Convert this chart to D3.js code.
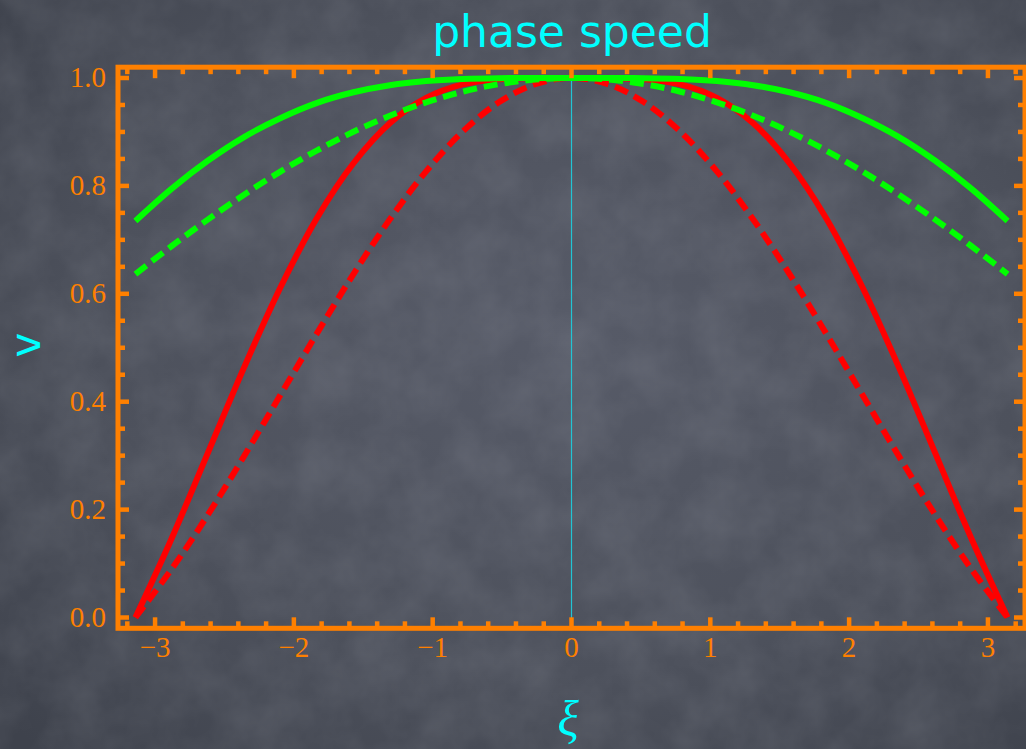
<!DOCTYPE html>
<html>
<head>
<meta charset="utf-8">
<script src="https://cdn.jsdelivr.net/npm/d3@7"></script>
<style>
  html, body { margin: 0; padding: 0; background: #4a4e5a; overflow: hidden; }
</style>
</head>
<body>
<div class="chart"></div>
<script>
var svgWidth = 1026;
var svgHeight = 749;

// sample points along xi (multiples of pi/12)
var xi = [-3.1416, -2.8798, -2.6180, -2.3562, -2.0944, -1.8326, -1.5708, -1.3090, -1.0472, -0.7854, -0.5236, -0.2618, 0,
  0.2618, 0.5236, 0.7854, 1.0472, 1.3090, 1.5708, 1.8326, 2.0944, 2.3562, 2.6180, 2.8798, 3.1416];

var redSolid = [0, 0.1470, 0.3060, 0.4650, 0.6130, 0.7410, 0.8420, 0.9160, 0.9630, 0.9880, 0.9976, 0.9998, 1,
  0.9998, 0.9976, 0.9880, 0.9630, 0.9160, 0.8420, 0.7410, 0.6130, 0.4650, 0.3060, 0.1470, 0];

var redDashed = [0, 0.0899, 0.1910, 0.3001, 0.4135, 0.5271, 0.6366, 0.7379, 0.8270, 0.9003, 0.9549, 0.9886, 1,
  0.9886, 0.9549, 0.9003, 0.8270, 0.7379, 0.6366, 0.5271, 0.4135, 0.3001, 0.1910, 0.0899, 0];

var greenSolid = [0.7350, 0.7950, 0.8470, 0.8910, 0.9260, 0.9540, 0.9735, 0.9866, 0.9943, 0.9982, 0.9997, 1.0, 1,
  1.0, 0.9997, 0.9982, 0.9943, 0.9866, 0.9735, 0.9540, 0.9260, 0.8910, 0.8470, 0.7950, 0.7350];

var greenDashed = [0.6366, 0.6886, 0.7379, 0.7842, 0.8270, 0.8658, 0.9003, 0.9301, 0.9549, 0.9745, 0.9886, 0.9972, 1,
  0.9972, 0.9886, 0.9745, 0.9549, 0.9301, 0.9003, 0.8658, 0.8270, 0.7842, 0.7379, 0.6886, 0.6366];

var xTickValues = [-3, -2, -1, 0, 1, 2, 3];
var xTickLabels = ['\u22123', '\u22122', '\u22121', '0', '1', '2', '3'];
var yTickValues = [0, 0.2, 0.4, 0.6, 0.8, 1.0];
var yTickLabels = ['0.0', '0.2', '0.4', '0.6', '0.8', '1.0'];

var orange = '#ff8000';
var cyan = '#00ffff';

var svg = d3
  .select('.chart')
  .append('svg')
  .attr('width', svgWidth)
  .attr('height', svgHeight);

// background: dark slate with a bit of texture
var defs = svg.append('defs');
var grad = defs.append('radialGradient').attr('id', 'bg').attr('cx', '55%').attr('cy', '45%').attr('r', '75%');
grad.append('stop').attr('offset', '0%').attr('stop-color', '#575b68');
grad.append('stop').attr('offset', '60%').attr('stop-color', '#4d515c');
grad.append('stop').attr('offset', '100%').attr('stop-color', '#3e424c');

var noise = defs.append('filter').attr('id', 'noise').attr('x', 0).attr('y', 0).attr('width', '100%').attr('height', '100%');
noise.append('feTurbulence').attr('type', 'fractalNoise').attr('baseFrequency', '0.02').attr('numOctaves', 4).attr('seed', 7);
noise.append('feColorMatrix').attr('type', 'matrix')
  .attr('values', '0 0 0 0 0.82  0 0 0 0 0.84  0 0 0 0 0.9  0 0 0 0.14 -0.04');

svg.append('rect').attr('width', svgWidth).attr('height', svgHeight).attr('fill', 'url(#bg)');
svg.append('rect').attr('width', svgWidth).attr('height', svgHeight).attr('filter', 'url(#noise)');

var x = d3.scaleLinear().domain([-3.267, 3.267]).range([118, 1025]);
var y = d3.scaleLinear().domain([-0.02, 1.02]).range([628.3, 67.2]);

var chart = svg.append('g');

// thin vertical line at xi = 0
chart.append('line')
  .attr('x1', x(0)).attr('x2', x(0))
  .attr('y1', y(1.02)).attr('y2', y(-0.02))
  .attr('stroke', '#22c4d4')
  .attr('stroke-width', 1.2);

var line = d3.line()
  .x(function(d) { return x(d[0]); })
  .y(function(d) { return y(d[1]); })
  .curve(d3.curveCatmullRom.alpha(0.5));

var series = [
  {values: redSolid, color: '#ff0000', dash: null},
  {values: redDashed, color: '#ff0000', dash: '14,7'},
  {values: greenSolid, color: '#00ff00', dash: null},
  {values: greenDashed, color: '#00ff00', dash: '14,7'}
];

series.forEach(function(s) {
  chart.append('path')
    .datum(xi.map(function(v, i) { return [v, s.values[i]]; }))
    .attr('d', line)
    .attr('fill', 'none')
    .attr('stroke', s.color)
    .attr('stroke-width', 6)
    .attr('stroke-dasharray', s.dash);
});

// frame with ticks on all four sides
var frame = svg.append('g');
var x0 = x.range()[0], x1 = x.range()[1];
var y0 = y.range()[0], y1 = y.range()[1];

var xMinor = d3.range(-16, 17).map(function(k) { return k / 5; })
  .filter(function(v) { return Math.abs(v - Math.round(v)) > 1e-6; });
var yMinor = d3.range(0, 21).map(function(k) { return k / 20; })
  .filter(function(v) { return Math.abs(v * 5 - Math.round(v * 5)) > 1e-6; });

function tick(x1t, y1t, x2t, y2t) {
  frame.append('line')
    .attr('x1', x1t).attr('y1', y1t).attr('x2', x2t).attr('y2', y2t)
    .attr('stroke', orange).attr('stroke-width', 4.5);
}

xTickValues.forEach(function(v) {
  tick(x(v), y0, x(v), y0 - 11);
  tick(x(v), y1, x(v), y1 + 11);
});
xMinor.forEach(function(v) {
  tick(x(v), y0, x(v), y0 - 7);
  tick(x(v), y1, x(v), y1 + 7);
});
yTickValues.forEach(function(v) {
  tick(x0, y(v), x0 + 11, y(v));
  tick(x1, y(v), x1 - 11, y(v));
});
yMinor.forEach(function(v) {
  tick(x0, y(v), x0 + 7, y(v));
  tick(x1, y(v), x1 - 7, y(v));
});

frame.append('rect')
  .attr('x', x0).attr('y', y1)
  .attr('width', x1 - x0).attr('height', y0 - y1)
  .attr('fill', 'none')
  .attr('stroke', orange)
  .attr('stroke-width', 5);

// tick labels
frame.selectAll('.xlab')
  .data(xTickValues)
  .enter()
  .append('text')
  .attr('class', 'xlab')
  .attr('x', function(d) { return x(d); })
  .attr('y', 657)
  .attr('text-anchor', 'middle')
  .attr('font-family', 'Liberation Serif, Times New Roman, serif')
  .attr('font-size', 29)
  .attr('fill', orange)
  .text(function(d, i) { return xTickLabels[i]; });

frame.selectAll('.ylab')
  .data(yTickValues)
  .enter()
  .append('text')
  .attr('class', 'ylab')
  .attr('x', 106)
  .attr('y', function(d) { return y(d) + 9; })
  .attr('text-anchor', 'end')
  .attr('font-family', 'Liberation Serif, Times New Roman, serif')
  .attr('font-size', 29)
  .attr('fill', orange)
  .text(function(d, i) { return yTickLabels[i]; });

// title and axis labels
svg.append('text')
  .attr('x', 572)
  .attr('y', 47)
  .attr('text-anchor', 'middle')
  .attr('font-family', 'Comic Sans MS, DejaVu Sans, sans-serif')
  .attr('font-size', 44)
  .attr('fill', cyan)
  .text('phase speed');

svg.append('text')
  .attr('transform', 'translate(40,345) rotate(-90)')
  .attr('text-anchor', 'middle')
  .attr('font-family', 'Comic Sans MS, DejaVu Sans, sans-serif')
  .attr('font-size', 42)
  .attr('fill', cyan)
  .text('v');

svg.append('text')
  .attr('x', 568)
  .attr('y', 736)
  .attr('text-anchor', 'middle')
  .attr('font-family', 'Liberation Serif, Times New Roman, serif')
  .attr('font-style', 'italic')
  .attr('font-size', 50)
  .attr('fill', cyan)
  .text('\u03be');
</script>
</body>
</html>
